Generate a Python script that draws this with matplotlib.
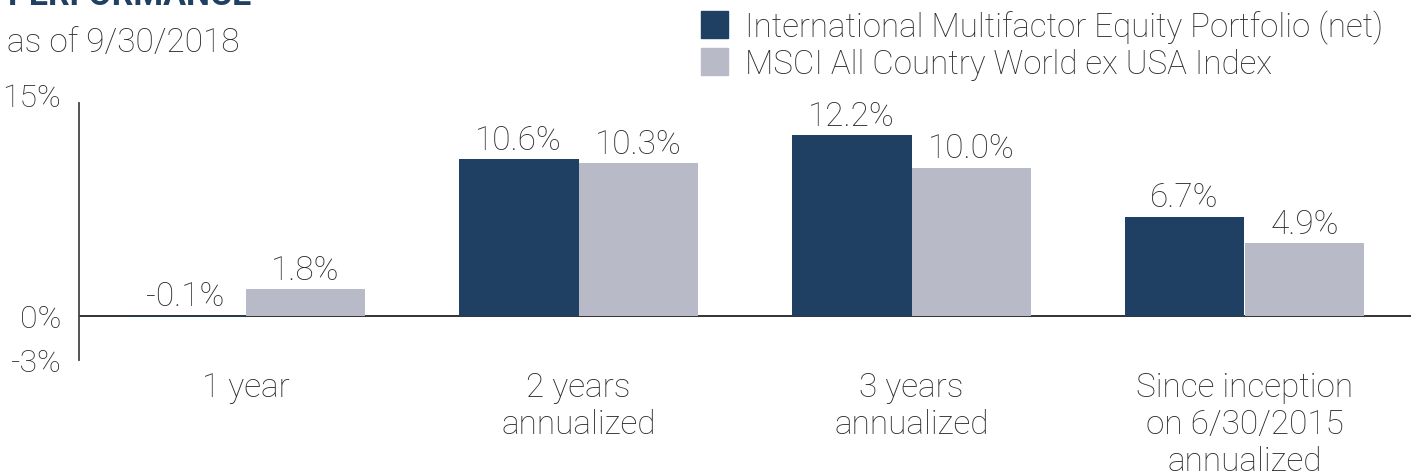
import matplotlib
matplotlib.use("Agg")
import matplotlib.pyplot as plt
import numpy as np

# chart data
categories = ["1 year", "2 years\nannualized", "3 years\nannualized",
              "Since inception\non 6/30/2015\nannualized"]
portfolio = [-0.1, 10.6, 12.2, 6.7]
index = [1.8, 10.3, 10.0, 4.9]
series_names = ["International Multifactor Equity Portfolio (net)",
                "MSCI All Country World ex USA Index"]
y_ticks = [-3, 0, 15]

DARK = "#1f4063"
LIGHT = "#b8bac8"
TEXT = "#2b2b2b"
W, H = 1416, 477

plt.rcParams["font.family"] = ["Roboto", "DejaVu Sans"]
plt.rcParams["font.weight"] = "light"

fig = plt.figure(figsize=(W / 100, H / 100), dpi=100)
ax = fig.add_axes([79 / W, 1 - 361 / H, 1332 / W, 266 / H])

x = np.arange(len(categories))
w = 0.36
b1 = ax.bar(x - w / 2, portfolio, w, color=DARK)
b2 = ax.bar(x + w / 2, index, w, color=LIGHT)

for bars, vals in ((b1, portfolio), (b2, index)):
    for bar, v in zip(bars, vals):
        ax.annotate(f"{v:.1f}%", (bar.get_x() + bar.get_width() / 2, max(v, 0)),
                    xytext=(0, 7.5), textcoords="offset points",
                    ha="center", va="baseline", fontsize=24, color=TEXT)

ax.axhline(0, color="#222222", lw=1.3, zorder=0)
ax.set_xlim(-0.5, 3.5)
ax.set_ylim(-3, 15)

for s in ("top", "right", "bottom"):
    ax.spines[s].set_visible(False)
ax.spines["left"].set_color("#444444")
ax.spines["left"].set_linewidth(1.3)
ax.spines["left"].set_bounds(-3, 14.4)

ax.set_yticks(y_ticks)
ax.set_yticklabels([f"{t}%" for t in y_ticks], fontsize=23, color=TEXT)
ax.tick_params(axis="y", length=0, pad=13)
ax.set_xticks([])

trans = matplotlib.transforms.blended_transform_factory(ax.transData, fig.transFigure)
for xi, lab in zip(x, categories):
    ax.text(xi, 1 - 372 / H, lab, transform=trans,
            ha="center", va="top", fontsize=24, color=TEXT,
            linespacing=1.2)

# heading (cut off at the top in the source)
fig.text(8 / W, 1 - 5 / H, "PERFORMANCE", fontsize=24.5, fontweight="bold",
         color=DARK, ha="left", va="baseline")
fig.text(7 / W, 1 - 52 / H, "as of 9/30/2018", fontsize=24,
         color=TEXT, ha="left", va="baseline")

# legend drawn by hand
for i, (name, col) in enumerate(zip(series_names, [DARK, LIGHT])):
    top = 12 + i * 37
    fig.patches.append(plt.Rectangle((701 / W, 1 - (top + 27) / H),
                                     27 / W, 27 / H, color=col,
                                     transform=fig.transFigure))
    fig.text(745 / W, 1 - (top + 25) / H, name, fontsize=23.8, color=TEXT,
             ha="left", va="baseline")

fig.savefig("out.png", dpi=100)
